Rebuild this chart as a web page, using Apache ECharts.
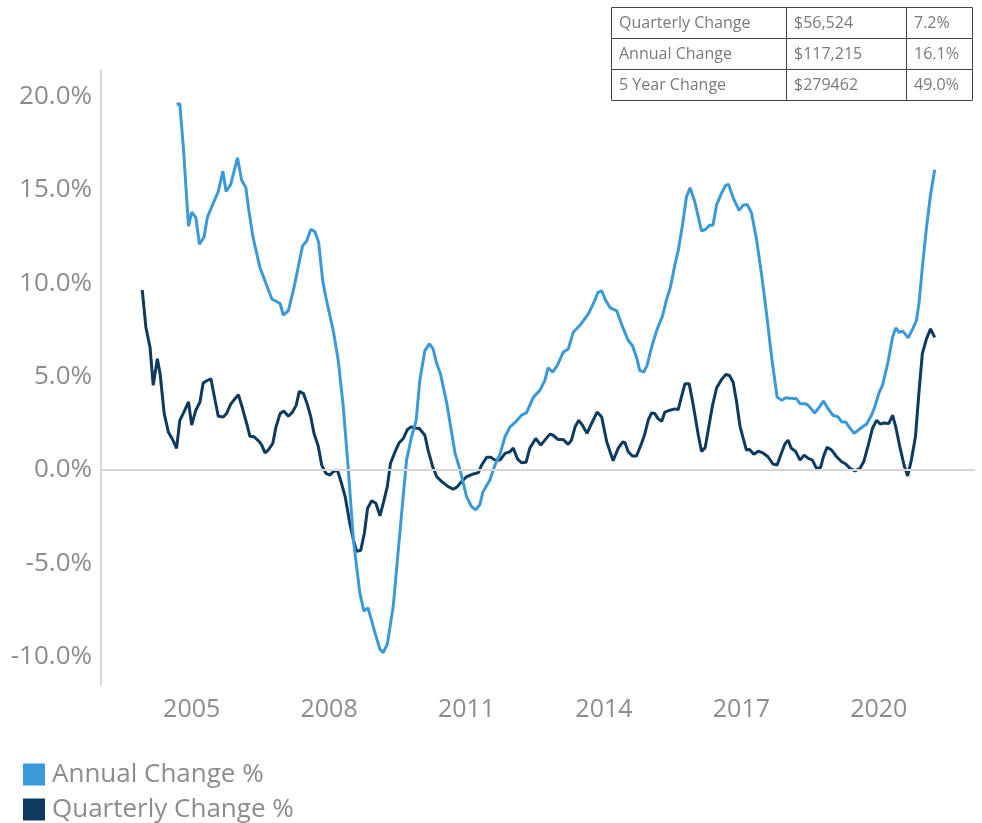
<!DOCTYPE html>
<html>
<head>
<meta charset="utf-8">
<script src="https://cdn.jsdelivr.net/npm/echarts@6/dist/echarts.min.js"></script>
<style>
  html, body { margin: 0; padding: 0; background: #fff; }
  #chart { width: 982px; height: 823px; }
</style>
</head>
<body>
<div id="chart"></div>
<script>
// 年份刻度
var yearTicks = [2005, 2008, 2011, 2014, 2017, 2020];
var pctTicks = [-10, -5, 0, 5, 10, 15, 20];

// Annual Change % (x = 年份小数)
var annualYears = [
  2004.67, 2004.74, 2004.82, 2004.93, 2005.00, 2005.09, 2005.17, 2005.27, 2005.34, 2005.44,
  2005.58, 2005.68, 2005.75, 2005.85, 2006.00, 2006.09, 2006.18, 2006.25, 2006.34, 2006.49,
  2006.64, 2006.75, 2006.93, 2007.00, 2007.11, 2007.25, 2007.42, 2007.51, 2007.60, 2007.69,
  2007.77, 2007.86, 2007.93, 2008.09, 2008.20, 2008.31, 2008.42, 2008.53, 2008.67, 2008.76,
  2008.85, 2009.00, 2009.11, 2009.18, 2009.27, 2009.40, 2009.55, 2009.69, 2009.80, 2009.90,
  2009.98, 2010.09, 2010.19, 2010.27, 2010.35, 2010.43, 2010.57, 2010.75, 2010.86, 2011.00,
  2011.11, 2011.20, 2011.29, 2011.36, 2011.51, 2011.62, 2011.73, 2011.84, 2011.95, 2012.09,
  2012.20, 2012.31, 2012.46, 2012.60, 2012.71, 2012.78, 2012.88, 2012.98, 2013.11, 2013.22,
  2013.33, 2013.47, 2013.66, 2013.78, 2013.87, 2013.95, 2014.04, 2014.14, 2014.28, 2014.38,
  2014.53, 2014.62, 2014.71, 2014.78, 2014.87, 2014.94, 2015.04, 2015.15, 2015.28, 2015.37,
  2015.45, 2015.55, 2015.62, 2015.72, 2015.80, 2015.88, 2015.98, 2016.13, 2016.22, 2016.31,
  2016.38, 2016.46, 2016.57, 2016.66, 2016.72, 2016.82, 2016.95, 2017.04, 2017.13, 2017.22,
  2017.33, 2017.44, 2017.55, 2017.66, 2017.73, 2017.78, 2017.88, 2017.97, 2018.13, 2018.20,
  2018.28, 2018.39, 2018.46, 2018.60, 2018.68, 2018.79, 2018.87, 2019.00, 2019.11, 2019.19,
  2019.28, 2019.35, 2019.46, 2019.55, 2019.66, 2019.73, 2019.84, 2019.91, 2020.01, 2020.08,
  2020.20, 2020.30, 2020.37, 2020.44, 2020.53, 2020.64, 2020.74, 2020.82, 2020.88, 2020.95,
  2021.04, 2021.13, 2021.22
];
var annualValues = [
  19.57, 19.6, 17.2, 13.05, 13.8, 13.5, 12.08, 12.47, 13.5, 14.1,
  14.9, 15.98, 14.9, 15.27, 16.7, 15.5, 15.13, 13.85, 12.43, 10.83,
  9.86, 9.15, 8.91, 8.29, 8.52, 9.95, 11.99, 12.25, 12.88, 12.75,
  12.2, 10.12, 9.23, 7.46, 5.86, 3.37, 0.0, -3.73, -6.57, -7.55,
  -7.37, -8.7, -9.59, -9.77, -9.32, -7.28, -3.2, 0.53, 1.78, 2.66,
  4.79, 6.39, 6.75, 6.48, 5.68, 5.15, 3.55, 0.89, 0.0, -1.42,
  -1.96, -2.13, -1.86, -1.16, -0.53, 0.27, 0.85, 1.78, 2.31, 2.62,
  2.93, 3.07, 3.9, 4.26, 4.79, 5.47, 5.24, 5.59, 6.3, 6.48,
  7.37, 7.73, 8.35, 8.97, 9.5, 9.59, 9.06, 8.67, 8.52, 7.82,
  6.93, 6.66, 6.04, 5.33, 5.24, 5.59, 6.57, 7.46, 8.26, 9.15,
  9.77, 11.0, 11.72, 13.2, 14.6, 15.1, 14.38, 12.79, 12.88, 13.1,
  13.1, 14.2, 14.83, 15.24, 15.27, 14.56, 13.89, 14.17, 14.2, 13.76,
  12.34, 10.48, 8.35, 6.04, 4.79, 3.9, 3.73, 3.87, 3.82, 3.82,
  3.55, 3.55, 3.46, 3.05, 3.29, 3.69, 3.37, 2.93, 2.84, 2.57,
  2.57, 2.31, 1.96, 2.13, 2.34, 2.45, 2.93, 3.37, 4.17, 4.53,
  5.77, 7.1, 7.6, 7.37, 7.42, 7.07, 7.55, 7.99, 8.97, 10.83,
  12.96, 14.74, 16.07
];

// Quarterly Change %
var quarterlyYears = [
  2003.92, 2004.00, 2004.09, 2004.16, 2004.25, 2004.31, 2004.40, 2004.49, 2004.59, 2004.67,
  2004.74, 2004.83, 2004.93, 2005.00, 2005.09, 2005.18, 2005.25, 2005.34, 2005.42, 2005.51,
  2005.58, 2005.69, 2005.76, 2005.85, 2005.93, 2006.02, 2006.11, 2006.20, 2006.27, 2006.36,
  2006.48, 2006.53, 2006.60, 2006.67, 2006.77, 2006.84, 2006.93, 2007.01, 2007.11, 2007.20,
  2007.28, 2007.35, 2007.44, 2007.52, 2007.60, 2007.67, 2007.76, 2007.84, 2007.93, 2008.02,
  2008.09, 2008.18, 2008.27, 2008.35, 2008.45, 2008.53, 2008.60, 2008.69, 2008.77, 2008.84,
  2008.93, 2009.02, 2009.11, 2009.20, 2009.27, 2009.34, 2009.44, 2009.53, 2009.62, 2009.71,
  2009.79, 2009.87, 2009.97, 2010.09, 2010.16, 2010.26, 2010.35, 2010.46, 2010.60, 2010.71,
  2010.80, 2010.89, 2011.00, 2011.15, 2011.26, 2011.33, 2011.44, 2011.53, 2011.62, 2011.73,
  2011.84, 2011.95, 2012.02, 2012.11, 2012.20, 2012.30, 2012.38, 2012.51, 2012.62, 2012.71,
  2012.82, 2012.89, 2013.00, 2013.11, 2013.22, 2013.29, 2013.37, 2013.45, 2013.53, 2013.63,
  2013.73, 2013.85, 2013.95, 2014.06, 2014.20, 2014.31, 2014.41, 2014.46, 2014.53, 2014.62,
  2014.71, 2014.82, 2014.89, 2014.97, 2015.04, 2015.11, 2015.18, 2015.26, 2015.33, 2015.44,
  2015.55, 2015.62, 2015.69, 2015.77, 2015.86, 2015.93, 2015.98, 2016.06, 2016.13, 2016.21,
  2016.28, 2016.37, 2016.46, 2016.57, 2016.66, 2016.74, 2016.82, 2016.89, 2016.97, 2017.04,
  2017.11, 2017.18, 2017.27, 2017.37, 2017.47, 2017.58, 2017.69, 2017.78, 2017.85, 2017.95,
  2018.02, 2018.09, 2018.18, 2018.28, 2018.37, 2018.46, 2018.55, 2018.64, 2018.73, 2018.79,
  2018.87, 2018.97, 2019.08, 2019.19, 2019.28, 2019.37, 2019.48, 2019.59, 2019.67, 2019.77,
  2019.86, 2019.95, 2020.04, 2020.11, 2020.22, 2020.30, 2020.37, 2020.46, 2020.55, 2020.63,
  2020.71, 2020.80, 2020.88, 2020.95, 2021.04, 2021.13, 2021.22
];
var quarterlyValues = [
  9.63, 7.64, 6.57, 4.53, 5.95, 5.15, 3.02, 2.04, 1.6, 1.16,
  2.66, 3.1, 3.64, 2.4, 3.2, 3.64, 4.65, 4.79, 4.88, 3.73,
  2.88, 2.84, 3.02, 3.52, 3.77, 4.03, 3.29, 2.49, 1.81, 1.78,
  1.51, 1.33, 0.92, 1.07, 1.42, 2.31, 3.02, 3.16, 2.88, 3.1,
  3.46, 4.21, 4.09, 3.55, 2.84, 1.96, 1.3, 0.25, -0.18, -0.27,
  -0.09, 0.0, -0.71, -1.42, -2.84, -3.73, -4.35, -4.3, -3.37, -2.04,
  -1.64, -1.78, -2.45, -1.6, -0.89, 0.36, 0.98, 1.46, 1.69, 2.17,
  2.31, 2.25, 2.22, 1.86, 1.07, 0.18, -0.36, -0.62, -0.89, -1.03,
  -0.89, -0.62, -0.36, -0.21, -0.14, 0.27, 0.68, 0.68, 0.53, 0.53,
  0.89, 0.98, 1.18, 0.6, 0.39, 0.42, 1.16, 1.69, 1.33, 1.6,
  1.92, 1.86, 1.63, 1.63, 1.37, 1.6, 2.31, 2.66, 2.4, 1.96,
  2.49, 3.1, 2.84, 1.51, 0.5, 1.16, 1.51, 1.46, 0.98, 0.75,
  0.75, 1.42, 1.92, 2.7, 3.05, 3.02, 2.75, 2.61, 3.1, 3.2,
  3.27, 3.23, 3.9, 4.62, 4.62, 3.73, 3.02, 1.86, 1.0, 1.2,
  2.2, 3.46, 4.4, 4.85, 5.11, 5.06, 4.7, 3.73, 2.34, 1.69,
  1.07, 1.1, 0.85, 1.01, 0.92, 0.71, 0.32, 0.27, 0.75, 1.39,
  1.6, 1.16, 1.01, 0.53, 0.8, 0.62, 0.53, 0.09, 0.14, 0.71,
  1.21, 1.07, 0.71, 0.44, 0.32, 0.09, -0.04, 0.09, 0.44, 1.33,
  2.22, 2.66, 2.45, 2.52, 2.49, 2.93, 2.31, 1.24, 0.27, -0.32,
  0.53, 1.78, 4.26, 6.22, 7.02, 7.55, 7.1
];

// 右上角表格
var tableLabels = ["Quarterly Change", "Annual Change", "5 Year Change"];
var tableAmounts = ["$56,524", "$117,215", "$279462"];
var tablePcts = ["7.2%", "16.1%", "49.0%"];

var seriesNames = ["Annual Change %", "Quarterly Change %"];
var lightBlue = "#3a9ad9";
var darkBlue = "#0d3a5e";
var grey = "#8c8c8c";
var font = "'Open Sans', 'Noto Sans', sans-serif";

function pairUp(xs, ys) {
  return xs.map(function (x, i) { return [x, ys[i]]; });
}

// 表格用 graphic 画
function buildTable() {
  var top = 7, rowH = 31;
  var colX = [611, 786, 906, 972];
  var els = [];
  for (var r = 0; r < tableLabels.length; r++) {
    var cells = [tableLabels[r], tableAmounts[r], tablePcts[r]];
    for (var c = 0; c < 3; c++) {
      els.push({
        type: "rect",
        shape: { x: colX[c] + 0.5, y: top + r * rowH + 0.5, width: colX[c + 1] - colX[c], height: rowH },
        style: { fill: "#fff", stroke: "#444", lineWidth: 1 },
        z: 10
      });
      els.push({
        type: "text",
        x: colX[c] + 8,
        y: top + r * rowH + rowH / 2 + 1,
        style: { text: cells[c], fill: "#7a7a7a", font: "16px " + font, verticalAlign: "middle" },
        z: 11
      });
    }
  }
  return els;
}

var myChart = echarts.init(document.getElementById("chart"));

myChart.setOption({
  animation: false,
  backgroundColor: "#fff",
  grid: { left: 101, right: 7, top: 70, bottom: 138, containLabel: false },
  legend: {
    data: seriesNames,
    orient: "vertical",
    left: 18,
    top: 755,
    height: 120,
    icon: "rect",
    itemWidth: 22,
    itemHeight: 22,
    itemGap: 6,
    textStyle: { color: grey, fontSize: 26, fontFamily: font, lineHeight: 29, padding: [0, 0, 0, 2] }
  },
  xAxis: {
    type: "value",
    min: 2003.02,
    max: 2022.1,
    axisLine: { show: false },
    axisTick: { show: false },
    splitLine: { show: false },
    axisLabel: {
      customValues: yearTicks,
      color: grey,
      fontSize: 25,
      fontFamily: font,
      margin: 12,
      formatter: function (v) { return String(v); }
    }
  },
  yAxis: {
    type: "value",
    min: -11.5,
    max: 21.4,
    axisLine: { show: true, lineStyle: { color: "#d6d6d6", width: 2 } },
    axisTick: { show: false },
    splitLine: { show: false },
    axisLabel: {
      customValues: pctTicks,
      color: grey,
      fontSize: 26,
      fontFamily: font,
      margin: 9,
      formatter: function (v) { return v.toFixed(1) + "%"; }
    }
  },
  series: [
    {
      name: seriesNames[1],
      type: "line",
      data: pairUp(quarterlyYears, quarterlyValues),
      showSymbol: false,
      lineStyle: { color: darkBlue, width: 3 },
      itemStyle: { color: darkBlue },
      markLine: {
        silent: true,
        symbol: "none",
        label: { show: false },
        lineStyle: { color: "#d6d6d6", width: 2, type: "solid" },
        data: [{ yAxis: 0 }]
      },
      z: 2
    },
    {
      name: seriesNames[0],
      type: "line",
      data: pairUp(annualYears, annualValues),
      showSymbol: false,
      lineStyle: { color: lightBlue, width: 3 },
      itemStyle: { color: lightBlue },
      z: 3
    }
  ],
  graphic: buildTable()
});
</script>
</body>
</html>
